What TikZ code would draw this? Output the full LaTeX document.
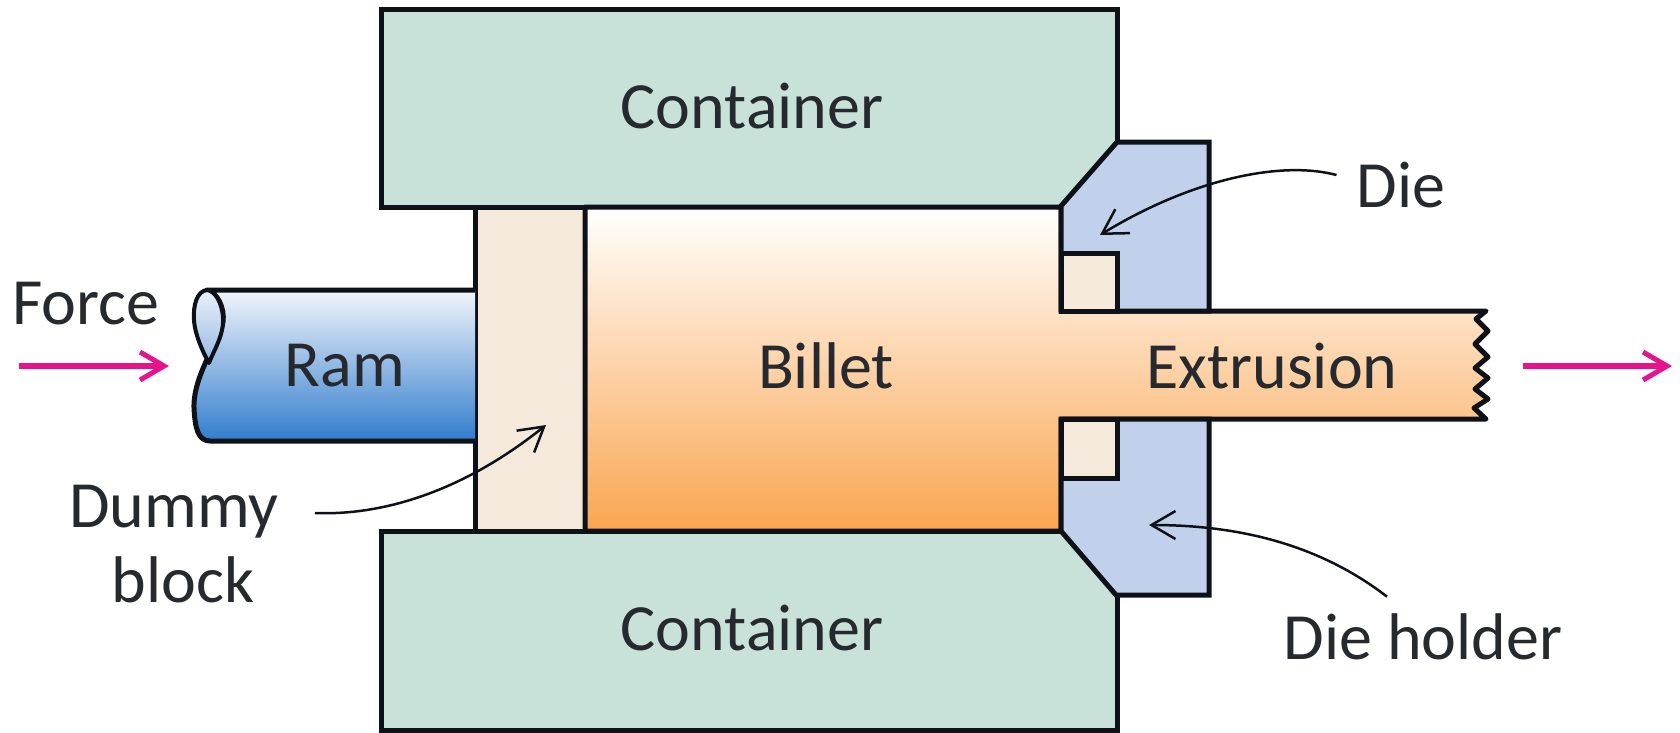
\documentclass[tikz,border=0pt]{standalone}
\usepackage{fontspec}
\setmainfont{Carlito}
\usetikzlibrary{arrows.meta,calc}
\definecolor{ink}{RGB}{14,18,24}
\definecolor{txt}{RGB}{38,42,46}
\definecolor{cont}{RGB}{200,226,217}
\definecolor{cream}{RGB}{245,233,220}
\definecolor{dieblue}{RGB}{194,209,235}
\definecolor{pinkish}{RGB}{230,20,140}
\definecolor{billetmid}{RGB}{253,210,160}
\definecolor{billetlow}{RGB}{250,165,80}
\definecolor{ramtop}{RGB}{243,245,251}
\definecolor{rammid}{RGB}{132,170,222}
\definecolor{ramlow}{RGB}{48,125,205}
\definecolor{lenstop}{RGB}{235,240,250}
\definecolor{lenslow}{RGB}{150,185,228}
\tikzset{
  part/.style={draw=ink,line width=5pt,line join=miter},
  lab/.style={text=txt,font=\fontsize{66}{78}\selectfont,inner sep=0pt},
  lead/.style={draw=ink,line width=2.5pt,-{Straight Barb[length=24pt,width=28pt,line width=2.5pt]}},
  pushline/.style={draw=pinkish,line width=6pt,-{Straight Barb[length=24pt,width=28pt,line width=5pt]}}
}
\begin{document}
\begin{tikzpicture}[x=1pt,y=-1pt]
\useasboundingbox (0,0) rectangle (1680,732);
% containers
\path[part,fill=cont] (381,9) rectangle (1117,207);
\path[part,fill=cont] (381,531) rectangle (1117,730);
% dummy block
\path[part,fill=cream] (475,207) rectangle (585,531);
% billet and extrusion
\path[part,line join=round,top color=white,middle color=billetmid,bottom color=billetlow]
  (585,207) -- (1061,207) -- (1061,311) -- (1486,311)
  -- (1476,319) -- (1488,331) -- (1475,344) -- (1488,357) -- (1475,368)
  -- (1488,378) -- (1475,389) -- (1488,399) -- (1474,408) -- (1486,419)
  -- (1061,419) -- (1061,531) -- (585,531) -- cycle;
% die holder
\path[part,fill=dieblue] (1117,142) -- (1209,142) -- (1209,311) -- (1061,311) -- (1061,206) -- cycle;
\path[part,fill=dieblue] (1116,595) -- (1209,595) -- (1209,419) -- (1061,419) -- (1061,531) -- cycle;
% die
\path[part,fill=cream] (1061,253) rectangle (1117,311);
\path[part,fill=cream] (1061,419) rectangle (1117,478);
% ram
\path[part,line join=round,top color=ramtop,middle color=rammid,bottom color=ramlow]
  (475,290) -- (207,290) .. controls (217,292) and (225,308) .. (223,322)
  .. controls (220,340) and (193,375) .. (194,408)
  .. controls (195,428) and (198,441) .. (210,441) -- (475,441);
\path[draw=ink,line width=4pt,line join=round,top color=lenstop,bottom color=lenslow]
  (207,290) .. controls (197,291) and (193,305) .. (194,320)
  .. controls (195,336) and (204,354) .. (209,363)
  .. controls (214,350) and (224,335) .. (223,318) .. controls (222,302) and (215,291) .. (207,290) -- cycle;
% labels
\node[lab] (con1) at (752,106) {Container};
\node[lab] (con2) at (752,628) {Container};
\node[lab] (ram) at (345,366) {Ram};
\node[lab] (billet) at (826,366) {Billet};
\node[lab] (extr) at (1272,366) {Extrusion};
\node[lab] (force) at (86,304) {Force};
\node[lab,align=center] (dummy) at (174,544) {Dummy\\[-3pt]\hspace{18pt}block};
\node[lab] (die) at (1401,185) {Die};
\node[lab] (holder) at (1423,637) {Die holder};
% connectors
\coordinate (ftip) at (169,366);
\coordinate (ftail) at (19,366);
\coordinate (rtail) at (1523,366);
\coordinate (rtip) at (1672,366);
\draw[pushline] (ftail) -- (ftip);
\draw[pushline] (rtail) -- (rtip);
\coordinate (dummyT) at (546,425);
\coordinate (dieT) at (1100,235);
\coordinate (holderT) at (1149,525);
\draw[lead] ($(dummy.east)+(36,-31)$) .. controls (390,516) and (470,486) .. (dummyT);
\draw[lead] ($(die.west)+(-20,-10)$) .. controls (1280,160) and (1190,180) .. (dieT);
\draw[lead] ($(holder.north)+(-36,-17)$) .. controls (1320,545) and (1240,525) .. (holderT);
\end{tikzpicture}
\end{document}
